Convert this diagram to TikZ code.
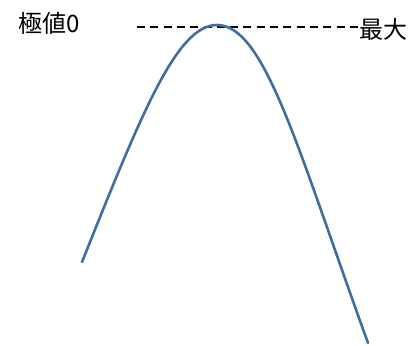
\documentclass[tikz,border=0pt]{standalone}
\usepackage{fontspec}
\newfontfamily\cjk{Noto Sans CJK JP}
\definecolor{curveblue}{RGB}{62,111,158}
\tikzset{
  lbl/.style={font=\cjk\fontsize{24}{26}\selectfont, inner sep=0pt},
  curve/.style={draw=curveblue, line width=2.6pt, line cap=round},
  level/.style={draw=black, line width=1.8pt, dash pattern=on 8pt off 5.3pt}
}
\begin{document}
\begin{tikzpicture}[x=1pt,y=-1pt]
\useasboundingbox (0,0) rectangle (411,345);
\node[lbl, anchor=west] (ext) at (18,23) {極値0};
\node[lbl, anchor=west] (max) at (359,29) {最大};
\coordinate (d0) at (137,27.3);
\draw[level] (d0) -- (d0 -| max.west);
\coordinate (c0) at (82,262);
\coordinate (top) at (217,25);
\coordinate (c1) at (368,343);
\draw[curve] (c0) .. controls (142,112) and (177,25) .. (top)
  .. controls (265,25) and (298,150) .. (c1);
\end{tikzpicture}
\end{document}
